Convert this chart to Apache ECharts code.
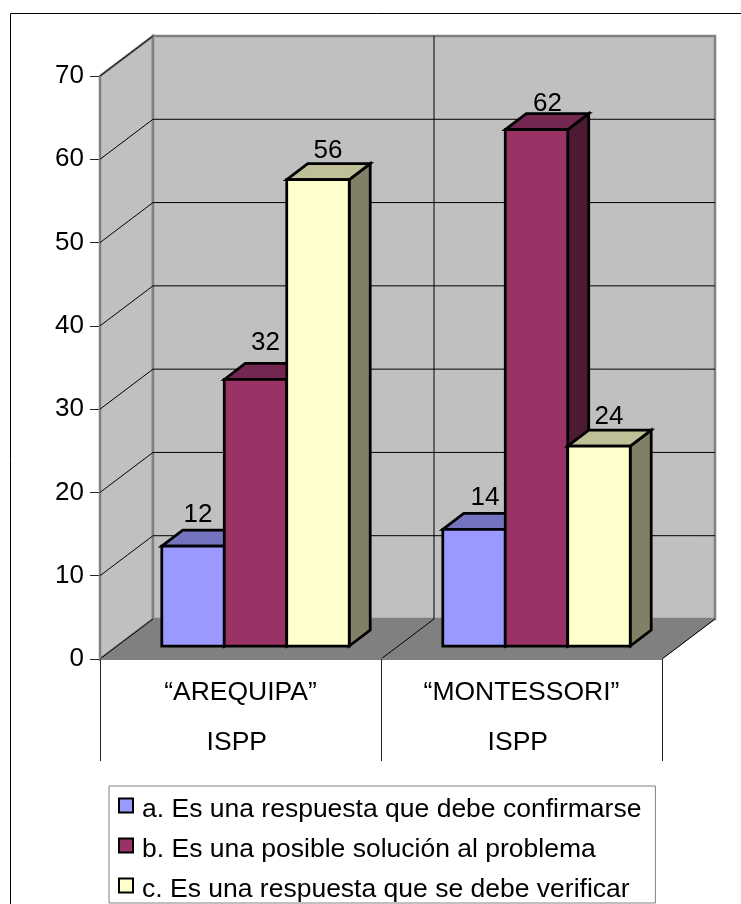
<!DOCTYPE html>
<html><head><meta charset="utf-8">
<style>html,body{margin:0;padding:0;background:#fff}#c{width:741px;height:904px}</style>
<script src="https://cdn.jsdelivr.net/npm/echarts@6/dist/echarts.min.js"></script>
</head><body><div id="c"></div>
<script>
const categories = ['“AREQUIPA”\n\nISPP ', '“MONTESSORI”\n\nISPP '];
const seriesNames = ['a. Es una respuesta que debe confirmarse','b. Es una posible solución al problema','c. Es una respuesta que se debe verificar'];
const valuesA = [12, 14];
const valuesB = [32, 62];
const valuesC = [56, 24];
const yTicks = [0,10,20,30,40,50,60,70];

const FONT = '"Liberation Sans", Arial, sans-serif';
const WALL_DX = 53, WALL_DY = -40;
const BAR_DX = 21, BAR_DY = -16, BAR_OFF_X = 15, BAR_OFF_Y = -13;
const GAP = 0.1665;
// hand-placed value labels in the reference: small [dx, dy] nudges per series and category
const LABEL_NUDGE = [[[-6,-2],[0,-3]],[[-1,-8],[0,3]],[[-1,0],[-1,0]]];
const colors = [
  {front:'#9999FF', top:'#7373BF', side:'#4D4D80'},
  {front:'#993366', top:'#732650', side:'#4D1A33'},
  {front:'#FFFFCC', top:'#BFBF99', side:'#808066'}
];
const poly = (points, fill, stroke, lw) => ({type:'polygon', shape:{points}, style:{fill, stroke, lineWidth:lw, lineJoin:'miter'}});
const line = (x1,y1,x2,y2,stroke,lw) => ({type:'line', shape:{x1,y1,x2,y2}, style:{stroke, lineWidth:lw}});

function renderWalls(params, api){
  const band = api.size([1,0])[0];
  const y = api.coord([0, api.value(1)])[1];
  const x0 = api.coord([0,0])[0] - band/2;
  const x1 = x0 + band * categories.length;
  const children = [];
  if (params.dataIndex === 0){
    const yB = y, yT = api.coord([0, yTicks[yTicks.length-1]])[1];
    children.push(poly([[x0,yT],[x0+WALL_DX,yT+WALL_DY],[x0+WALL_DX,yB+WALL_DY],[x0,yB]],'#C0C0C0','#808080',2.5));
    children.push(poly([[x0+WALL_DX,yT+WALL_DY],[x1+WALL_DX,yT+WALL_DY],[x1+WALL_DX,yB+WALL_DY],[x0+WALL_DX,yB+WALL_DY]],'#C0C0C0','#808080',2.5));
    children.push(poly([[x0,yB],[x1,yB],[x1+WALL_DX,yB+WALL_DY],[x0+WALL_DX,yB+WALL_DY]],'#808080','#808080',1));
    for (let i=1;i<categories.length;i++){
      const xm = x0 + band*i;
      children.push(line(xm+WALL_DX,yT+WALL_DY,xm+WALL_DX,yB+WALL_DY,'#000',1));
      children.push(line(xm,yB,xm+WALL_DX,yB+WALL_DY,'#000',1));
    }
    children.push(line(x0,yB,x0+WALL_DX,yB+WALL_DY,'#000',1));
    children.push(line(x1,yB,x1+WALL_DX,yB+WALL_DY,'#000',1));
  } else {
    children.push(line(x0,y,x0+WALL_DX,y+WALL_DY,'#000',1));
    if (api.value(1) !== yTicks[yTicks.length-1]) children.push(line(x0+WALL_DX,y+WALL_DY,x1+WALL_DX,y+WALL_DY,'#000',1));
  }
  return {type:'group', children};
}

function barRenderer(si){
  return function(params, api){
    const c = colors[si];
    const band = api.size([1,0])[0];
    const bw = band * (1-2*GAP) / 3;
    const base = api.coord([api.value(0), 0]);
    const top = api.coord([api.value(0), api.value(1)]);
    const l = base[0] - band/2 + band*GAP + si*bw + BAR_OFF_X;
    const r = l + bw;
    const yb = base[1] + BAR_OFF_Y;
    const yt = top[1] + BAR_OFF_Y;
    const s = '#000', lw = 2.75;
    const n = LABEL_NUDGE[si][params.dataIndex];
    return {type:'group', children:[
      poly([[r,yt],[r+BAR_DX,yt+BAR_DY],[r+BAR_DX,yb+BAR_DY],[r,yb]], c.side, s, lw),
      poly([[l,yt],[l+BAR_DX,yt+BAR_DY],[r+BAR_DX,yt+BAR_DY],[r,yt]], c.top, s, lw),
      poly([[l,yt],[r,yt],[r,yb],[l,yb]], c.front, s, lw),
      {type:'text', style:{text:String(api.value(1)), x:(l+r)/2+11+n[0], y:yt+BAR_DY-13+n[1], align:'center', verticalAlign:'middle', font:'26px '+FONT, fill:'#000'}, z2:10}
    ]};
  };
}
const makeBar = (i, vals) => ({
  type:'custom', name:seriesNames[i], coordinateSystem:'cartesian2d', silent:true, z:3,
  itemStyle:{color:colors[i].front},
  encode:{x:0,y:1}, data:vals.map((v,k)=>[k,v]), renderItem:barRenderer(i)
});

const chart = echarts.init(document.getElementById('c'), null, {renderer:'canvas'});
chart.setOption({
  animation:false,
  backgroundColor:'#fff',
  graphic:[{type:'rect', z:-1, silent:true, shape:{x:10.5,y:13.5,width:800,height:1000}, style:{fill:'none',stroke:'#000',lineWidth:1}}],
  grid:{left:100, right:79, top:76, bottom:245},
  xAxis:{type:'category', data:categories,
    axisLine:{show:true, lineStyle:{color:'#808080', width:2}},
    axisTick:{show:true, length:102, lineStyle:{color:'#222', width:1}},
    axisLabel:{color:'#000', fontFamily:FONT, fontSize:26.5, lineHeight:25, margin:21, interval:0},
    z:4},
  yAxis:{type:'value', min:0, max:70, interval:10,
    axisLine:{show:false},
    axisTick:{show:true, length:10, lineStyle:{color:'#222', width:1}},
    axisLabel:{color:'#000', fontFamily:FONT, fontSize:26, margin:16},
    splitLine:{show:false}},
  legend:{orient:'vertical', left:109, top:786, height:140, icon:'rect', itemWidth:14, itemHeight:14, itemGap:5,
    data:seriesNames, selectedMode:false,
    padding:[2,14,0,9], borderColor:'#808080', borderWidth:1, backgroundColor:'#fff',
    itemStyle:{borderColor:'#000', borderWidth:2},
    formatter:'{t|{name}}',
    textStyle:{color:'#000', fontFamily:FONT, fontSize:26.5,
      rich:{t:{color:'#000', fontFamily:FONT, fontSize:26.5, lineHeight:24, padding:[8,0,0,4]}}}},
  series:[
    {type:'custom', name:'walls', coordinateSystem:'cartesian2d', silent:true, z:1,
     encode:{x:0,y:1}, data:yTicks.map(t=>[0,t]), renderItem:renderWalls},
    makeBar(0,valuesA), makeBar(1,valuesB), makeBar(2,valuesC)
  ]
});
</script></body></html>
